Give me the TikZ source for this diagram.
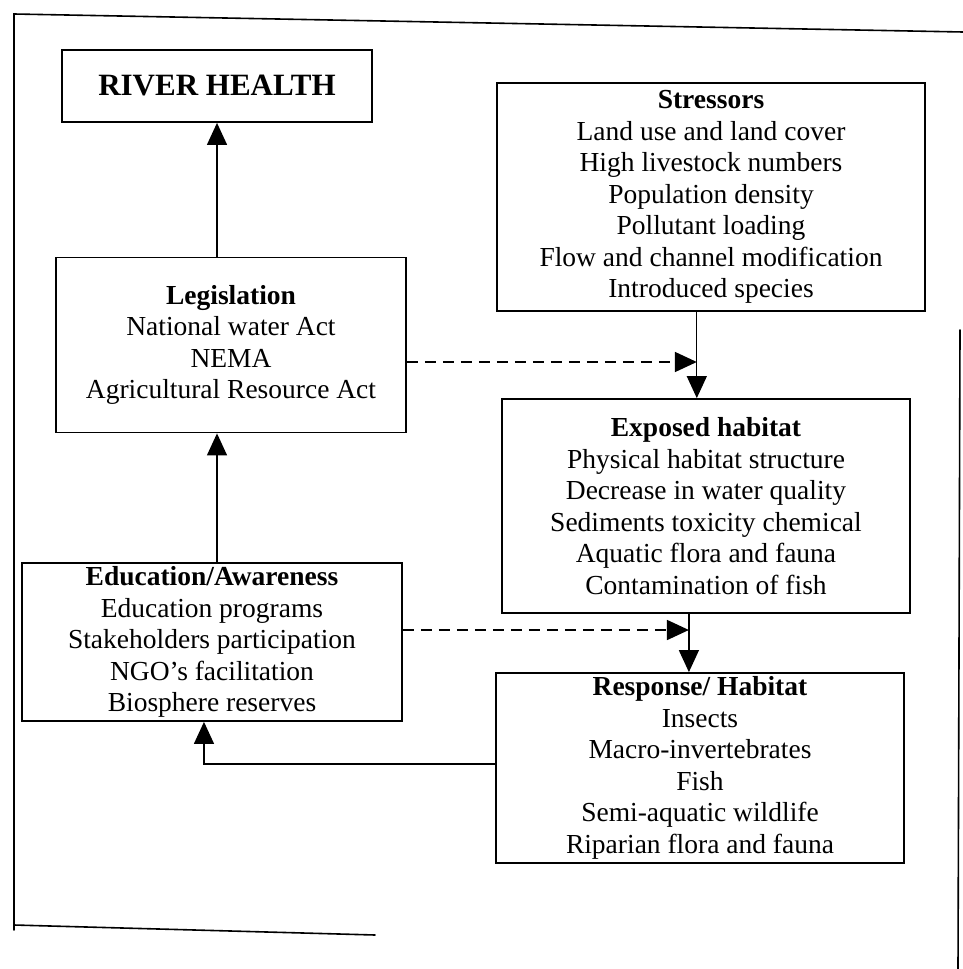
\documentclass[tikz,border=0pt]{standalone}
\usepackage{fontspec}
\setmainfont{Liberation Serif}
\usetikzlibrary{arrows.meta,calc}

\tikzset{
  box/.style={draw, line width=1.8pt, align=center, inner sep=0pt,
    font=\fontsize{27.5}{31.5}\selectfont},
  arr/.style={line width=1.3pt, -{Triangle[width=20pt,length=22pt]}},
  dasharr/.style={line width=1.8pt, dash pattern=on 11pt off 7pt,
    -{Triangle[width=20pt,length=22pt]}},
  frame/.style={line width=1.6pt, line cap=round},
}

\begin{document}
\begin{tikzpicture}[x=1pt,y=-1pt]
\useasboundingbox[fill=white] (0,0) rectangle (963,969);

% outer frame (open on the lower right)
\draw[frame] (963,32) -- (14,14) -- (14,930);
\draw[frame] (14,925) -- (375,935);
\draw[frame] (960,330) -- (958,969);

% boxes
\node[box, minimum width=310pt, minimum height=72pt,
      font=\fontsize{31}{36}\selectfont\bfseries] (rh) at (217,86) {RIVER HEALTH};

\node[box, minimum width=428pt, minimum height=228pt] (str) at (711,197)
  {\textbf{Stressors}\\Land use and land cover\\High livestock numbers\\Population density\\Pollutant loading\\Flow and channel modification\\Introduced species};

\node[box, minimum width=350pt, minimum height=175pt] (leg) at (231,345)
  {\textbf{Legislation}\\National water Act\\NEMA\\Agricultural Resource Act};

\node[box, minimum width=408pt, minimum height=214pt] (exp) at (706,506)
  {\textbf{Exposed habitat}\\Physical habitat structure\\Decrease in water quality\\Sediments toxicity chemical\\Aquatic flora and fauna\\Contamination of fish};

\node[box, minimum width=380pt, minimum height=158pt] (edu) at (212,642)
  {\textbf{Education/Awareness}\\Education programs\\Stakeholders participation\\NGO's facilitation\\Biosphere reserves};

\node[box, minimum width=408pt, minimum height=190pt] (resp) at (700,768)
  {\textbf{Response/ Habitat}\\Insects\\Macro-invertebrates\\Fish\\Semi-aquatic wildlife\\Riparian flora and fauna};

% connector anchor points
\coordinate (s1) at ($(str.south west)!0.467!(str.south east)$);
\coordinate (e1) at ($(exp.south west)!0.4583!(exp.south east)$);
\coordinate (l1) at ($(leg.east)+(0,17)$);
\coordinate (d1) at ($(edu.east)+(0,-12)$);
\coordinate (r1) at ($(resp.west)+(0,-4)$);
\coordinate (b1) at ($(edu.south west)!0.479!(edu.south east)$);

% solid connectors
\draw[arr] (leg.north -| rh.south) -- (rh.south);
\draw[arr] (edu.north -| rh.south) -- (leg.south -| rh.south);
\draw[arr] (s1) -- (s1 |- exp.north);
\draw[arr] (e1) -- (e1 |- resp.north);
\draw[arr] (r1) -- (r1 -| b1) -- (b1);

% dashed connectors
\draw[dasharr] (l1) -- (l1 -| s1);
\draw[dasharr] (d1) -- (d1 -| e1);
\end{tikzpicture}
\end{document}
